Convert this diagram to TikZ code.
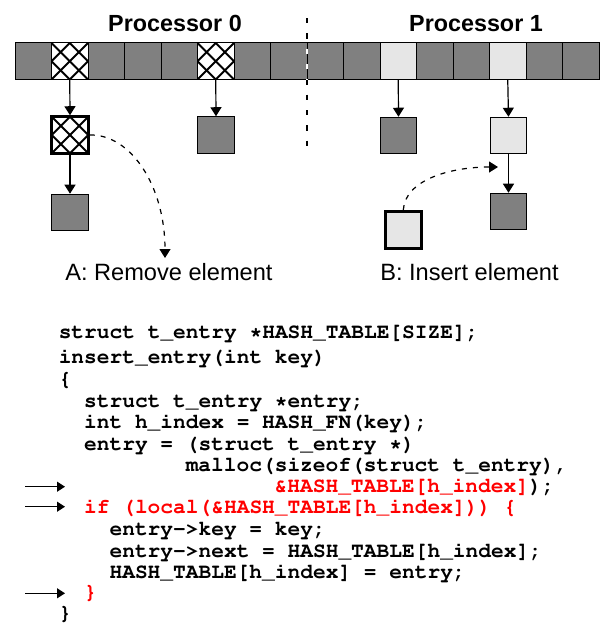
\documentclass[tikz,border=0pt]{standalone}
\usepackage[T1,TU]{fontenc}
\usepackage{fontspec}
\setmainfont{Liberation Sans}
\usetikzlibrary{arrows.meta}
\definecolor{bingray}{RGB}{128,128,128}
\definecolor{binlight}{RGB}{230,230,230}
\definecolor{codered}{RGB}{255,0,0}
\newcommand\codefont{\fontencoding{T1}\fontfamily{pcr}\fontseries{b}\fontshape{n}\fontsize{15.9pt}{19pt}\selectfont}
\newcommand\labelfont{\fontsize{17.7pt}{21pt}\selectfont}
\newcommand\headfont{\bfseries\fontsize{17.5pt}{21pt}\selectfont}
\begin{document}
\begin{tikzpicture}[x=0.75pt,y=-0.75pt,
  bincell/.style={draw, line width=0.75pt, minimum width=27.375pt, minimum height=28pt, inner sep=0pt, outer sep=0pt},
  graybin/.style={fill=bingray},
  lightbin/.style={fill=binlight},
  hatchline/.style={line width=1.5pt},
  hatchbin/.style={fill=white, path picture={
      \foreach \k in {-3,...,3}{
        \draw[hatchline] ([shift={(\k*18.25-40,-40)}]path picture bounding box.center) -- ([shift={(\k*18.25+40,40)}]path picture bounding box.center);
        \draw[hatchline] ([shift={(\k*18.25-40,40)}]path picture bounding box.center) -- ([shift={(\k*18.25+40,-40)}]path picture bounding box.center);
      }}},
  elem/.style={draw, line width=0.75pt, minimum size=27.4pt, inner sep=0pt},
  newelem/.style={draw, line width=2.25pt, minimum size=27.4pt, inner sep=0pt},
  link/.style={line width=0.9pt, -{Triangle[length=6.75pt, width=8.25pt]}},
  move/.style={line width=0.9pt, dash pattern=on 3.75pt off 4.5pt, -{Triangle[length=6.75pt, width=8.25pt]}},
  divider/.style={line width=0.9pt, dash pattern=on 4pt off 7.5pt},
  marker/.style={line width=0.8pt, -{Triangle[length=6pt, width=7.5pt]}},
  codeline/.style={anchor=base west, inner sep=0pt, font=\codefont},
  caption/.style={anchor=base west, inner sep=0pt, font=\labelfont},
  heading/.style={anchor=base, inner sep=0pt, font=\headfont}]
\useasboundingbox (0,0) rectangle (600,625);

% headings
\node[heading] (h0) at (175,31.7) {Processor 0};
\node[heading] (h1) at (476,31.7) {Processor 1};

% the hash table, split between the two processors
\foreach \i/\kind in {0/graybin,1/hatchbin,2/graybin,3/graybin,4/graybin,5/hatchbin,6/graybin,7/graybin,
                      8/graybin,9/graybin,10/lightbin,11/graybin,12/graybin,13/lightbin,14/graybin,15/graybin}
  \node[bincell,\kind] (c\i) at ({33.25+36.5*\i},61.3) {};

% processor boundary
\coordinate (dtop) at (307,18);
\coordinate (dbot) at (307,148);
\draw[divider] (dtop) -- (dbot);
\begin{scope}
  \clip (c7.north west) rectangle (c8.south east);
  \draw[divider, white] (dtop) -- (dbot);
\end{scope}

% processor 0 chains
\node[newelem, hatchbin] (rA) at (70,135) {};
\node[elem, fill=bingray] (gA) at (70,212.5) {};
\node[elem, fill=bingray] (g5) at (216,135) {};
\draw[link] (c1.south) -- (rA.north);
\draw[link] (rA.south) -- (gA.north);
\draw[link] (c5.south) -- (g5.north);

% processor 1 chains
\node[elem, fill=bingray] (g10) at (398.5,135.5) {};
\node[elem, fill=binlight] (l13) at (508.5,135.5) {};
\node[elem, fill=bingray] (g13) at (508.5,211.5) {};
\node[newelem, fill=binlight] (nB) at (403.3,229.8) {};
\draw[link] (c10.south) -- (g10.north);
\draw[link] (c13.south) -- (l13.north);
\draw[link] (l13.south) -- (g13.north);

% element moves
\coordinate (endA) at (165,258);
\coordinate (endB) at (498,167);
\draw[move] (rA.east) .. controls (130,134) and (165,185) .. (endA);
\draw[move] (nB.north) .. controls (405,180) and (450,167) .. (endB);

\node[caption] (capA) at (65,280) {A: Remove element};
\node[caption] (capB) at (380,280) {B: Insert element};

% code listing (one column = 12.7 units)
\node[codeline] (l1)  at (58.5,338)   {struct t\_entry *HASH\_TABLE[SIZE];};
\node[codeline] (l2)  at (58.5,363)   {insert\_entry(int key)};
\node[codeline] (l3)  at (58.5,385)   {\{};
\node[codeline] (l4)  at (83.9,407)   {struct t\_entry *entry;};
\node[codeline] (l5)  at (83.9,428)   {int h\_index = HASH\_FN(key);};
\node[codeline] (l6)  at (83.9,450)   {entry = (struct t\_entry *)};
\node[codeline] (l7)  at (185.5,471)  {malloc(sizeof(struct t\_entry),};
\node[codeline] (l8)  at (274.4,492.5) {\textcolor{codered}{\&HASH\_TABLE[h\_index]});};
\node[codeline, text=codered] (l9) at (83.9,513.5) {if (local(\&HASH\_TABLE[h\_index])) \{};
\node[codeline] (l10) at (109.3,535.5) {entry->key = key;};
\node[codeline] (l11) at (109.3,557)   {entry->next = HASH\_TABLE[h\_index];};
\node[codeline] (l12) at (109.3,578)   {HASH\_TABLE[h\_index] = entry;};
\node[codeline, text=codered] (l13) at (83.9,598.5) {\}};
\node[codeline] (l14) at (58.5,619)   {\}};

% markers on the changed lines
\coordinate (m8a) at (25,486.7);  \coordinate (m8b) at (65,486.7);
\coordinate (m9a) at (25,506.7);  \coordinate (m9b) at (65,506.7);
\coordinate (m13a) at (25,593.3); \coordinate (m13b) at (65,593.3);
\draw[marker] (m8a) -- (m8b);
\draw[marker] (m9a) -- (m9b);
\draw[marker] (m13a) -- (m13b);
\end{tikzpicture}
\end{document}
